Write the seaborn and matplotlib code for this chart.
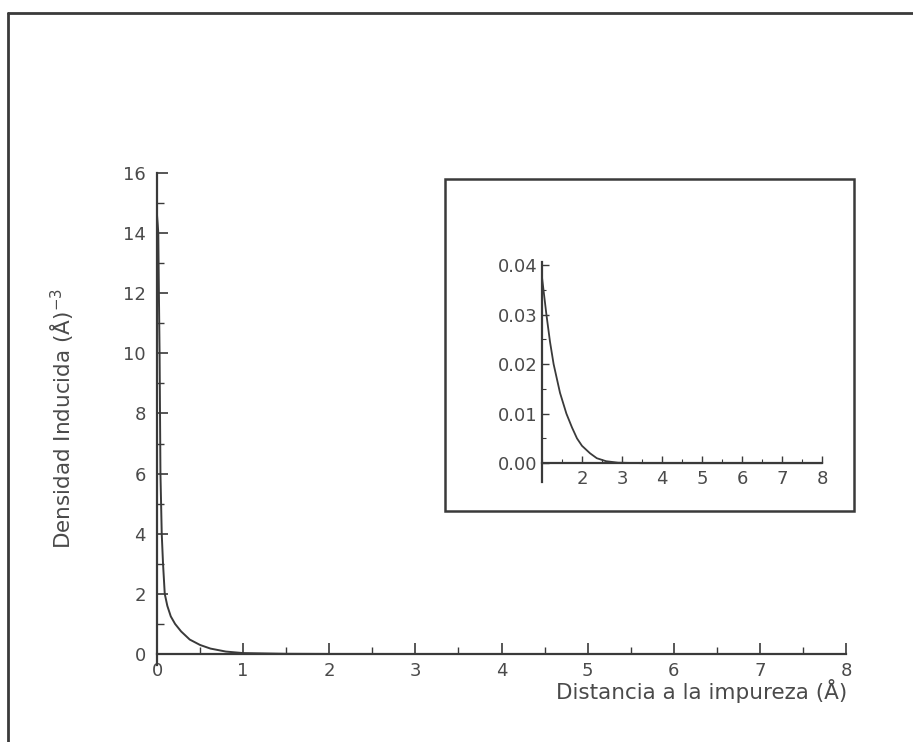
import numpy as np
import pandas as pd
import matplotlib
matplotlib.use("Agg")
import matplotlib.pyplot as plt
from matplotlib.ticker import MultipleLocator
from matplotlib.lines import Line2D
from matplotlib.patches import Rectangle
import seaborn as sns

# ---- data ----
main_x = [0.0, 0.008, 0.015, 0.022, 0.03, 0.04, 0.055, 0.07, 0.09, 0.12, 0.16,
          0.21, 0.28, 0.38, 0.5, 0.62, 0.8, 1.0, 1.5, 2.0, 3.0, 4.0, 5.0, 6.0, 7.0, 8.0]
main_y = [14.6, 14.3, 14.0, 12.0, 10.0, 6.0, 4.0, 3.0, 2.0, 1.6, 1.25,
          1.0, 0.75, 0.48, 0.3, 0.18, 0.08, 0.03, 0.006, 0.001, 0.0, 0.0, 0.0, 0.0, 0.0, 0.0]

inset_x = [1.0, 1.11, 1.2, 1.29, 1.45, 1.61, 1.75, 1.875, 2.0, 2.2, 2.37, 2.6, 2.9,
           3.5, 4.0, 5.0, 6.0, 7.0, 8.0]
inset_y = [0.0375, 0.030, 0.0245, 0.020, 0.0142, 0.010, 0.0072, 0.005, 0.0035, 0.002,
           0.001, 0.0004, 0.0001, 0.0, 0.0, 0.0, 0.0, 0.0, 0.0]

main_xticks = [0, 1, 2, 3, 4, 5, 6, 7, 8]
main_yticks = [0, 2, 4, 6, 8, 10, 12, 14, 16]
inset_xticks = [2, 3, 4, 5, 6, 7, 8]
inset_yticks = [0.00, 0.01, 0.02, 0.03, 0.04]

xlabel = "Distancia a la impureza (Å)"
ylabel = "Densidad Inducida (Å)$^{-3}$"

# ---- style ----
sns.set_style("ticks")
plt.rcParams['font.family'] = ['DejaVu Sans']
plt.rcParams['mathtext.fontset'] = 'dejavusans'
INK = '#3a3a3a'
TXT = '#4a4a4a'

W, H = 913, 742
fig = plt.figure(figsize=(W / 100, H / 100), dpi=100)
fig.patch.set_facecolor('white')

def fx(px):
    return px / W

def fy(py):
    return 1 - py / H

# figure border (top and left)
fig.add_artist(Line2D([fx(8), fx(913)], [fy(13), fy(13)], color=INK, lw=2.0,
                      transform=fig.transFigure))
fig.add_artist(Line2D([fx(8), fx(8)], [fy(13), fy(742)], color=INK, lw=2.0,
                      transform=fig.transFigure))

# ---- main axes ----
ax = fig.add_axes([fx(157), fy(664.5), fx(846) - fx(157), fy(173) - fy(664.5)])
df_main = pd.DataFrame({"x": main_x, "y": main_y})
sns.lineplot(data=df_main, x="x", y="y", ax=ax, color=INK, lw=1.4, sort=False)
ax.set_xlim(0, 8)
ax.set_ylim(-0.35, 16)
ax.spines['bottom'].set_position(('data', 0))
ax.spines['right'].set_visible(False)
ax.spines['top'].set_visible(False)
for s in ['left', 'bottom']:
    ax.spines[s].set_color(INK)
    ax.spines[s].set_linewidth(1.6)
ax.set_xticks(main_xticks)
ax.set_yticks(main_yticks)
ax.xaxis.set_minor_locator(MultipleLocator(0.5))
ax.yaxis.set_minor_locator(MultipleLocator(1))
ax.tick_params(axis='both', which='major', direction='in', length=8, width=1.2,
               colors=INK, labelcolor=TXT, labelsize=13)
ax.tick_params(axis='both', which='minor', direction='in', length=5, width=1.0, colors=INK)
ax.tick_params(axis='x', which='major', pad=6)
ax.tick_params(axis='y', which='major', pad=8)
ax.set_xlabel("")
ax.set_ylabel("")
fig.text(fx(847), fy(691), xlabel, ha='right', va='center', fontsize=15.5, color=TXT)
fig.text(fx(62), fy(418), ylabel, ha='center', va='center', rotation=90,
         fontsize=15.5, color=TXT)

# ---- inset box ----
fig.add_artist(Rectangle((fx(445), fy(511)), fx(854) - fx(445), fy(179) - fy(511),
                         transform=fig.transFigure, fill=False, edgecolor=INK, lw=1.8))

# ---- inset axes ----
ax2 = fig.add_axes([fx(542), fy(482), fx(822) - fx(542), fy(262) - fy(482)])
df_in = pd.DataFrame({"x": inset_x, "y": inset_y})
sns.lineplot(data=df_in, x="x", y="y", ax=ax2, color=INK, lw=1.3, sort=False)
ax2.set_xlim(1, 8)
ax2.set_ylim(-0.0038, 0.0406)
ax2.spines['bottom'].set_position(('data', 0))
ax2.spines['right'].set_visible(False)
ax2.spines['top'].set_visible(False)
for s in ['left', 'bottom']:
    ax2.spines[s].set_color(INK)
    ax2.spines[s].set_linewidth(1.6)
ax2.set_xticks(inset_xticks)
ax2.set_yticks(inset_yticks)
ax2.set_yticklabels([f"{v:.2f}" for v in inset_yticks])
ax2.xaxis.set_minor_locator(MultipleLocator(0.5))
ax2.yaxis.set_minor_locator(MultipleLocator(0.005))
ax2.tick_params(axis='both', which='major', direction='in', length=5, width=1.0,
                colors=INK, labelcolor=TXT, labelsize=13)
ax2.tick_params(axis='both', which='minor', direction='in', length=3, width=0.8, colors=INK)
ax2.tick_params(axis='x', which='major', pad=5)
ax2.tick_params(axis='y', which='major', pad=3)
ax2.set_xlabel("")
ax2.set_ylabel("")
ax2.patch.set_alpha(0)

fig.savefig("out.png", dpi=100, facecolor='white')
